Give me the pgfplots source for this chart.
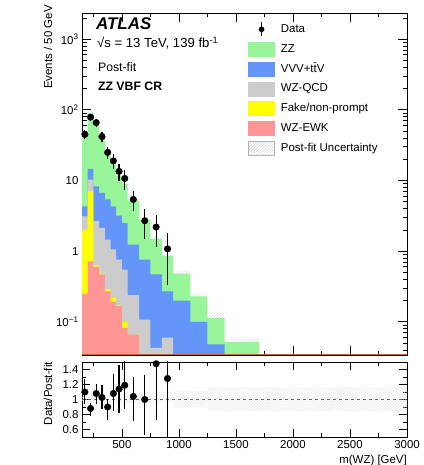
\documentclass[border=0pt]{standalone}
\usepackage{fontspec}
\setmainfont{Liberation Sans}
\usepackage{pgfplots}
\usepackage{pgfplotstable}
\pgfplotsset{compat=1.18}
\usepgfplotslibrary{fillbetween}
\usetikzlibrary{patterns}

\definecolor{zzgreen}{RGB}{153,245,153}
\definecolor{vvvblue}{RGB}{100,150,250}
\definecolor{qcdgrey}{RGB}{204,204,204}
\definecolor{fakeyel}{RGB}{255,255,0}
\definecolor{ewkred}{RGB}{255,150,150}
\definecolor{axbrown}{RGB}{200,100,60}

% stacked (cumulative) heights, left bin edges; first/last rows close the polygon
\pgfplotstableread{
x    ewk   fake  qcd   vvv   zz
150  0.01  0.01  0.01  0.01  0.01
150  0.25  2.0   3.1   4.3   41
200  0.72  7.1   10.3  14.6  90
250  0.60  0.63  2.66  8.3   61
300  0.47  0.48  2.14  6.7   41
350  0.27  0.29  1.46  5.4   27.5
400  0.19  0.22  1.06  4.3   17.6
450  0.167 0.17  0.76  3.2   11.8
500  0.082 0.099 0.55  2.52  9.0
550  0.066 0.066 0.24  1.24  5.2
650  0.01  0.01  0.108 0.76  2.75
750  0.01  0.01  0.043 0.47  1.5
850  0.01  0.01  0.06  0.27  0.86
950  0.01  0.01  0.01  0.20  0.48
1100 0.01  0.01  0.01  0.10  0.23
1250 0.01  0.01  0.01  0.048 0.114
1400 0.01  0.01  0.01  0.01  0.052
1700 0.01  0.01  0.01  0.01  0.052
1700 0.01  0.01  0.01  0.01  0.01
}\stack

\pgfplotstableread{
x    up     lo
150  43.05  38.95
200  94.5   85.5
250  64.05  57.95
300  43.05  38.95
350  28.9   26.1
400  18.5   16.7
450  12.4   11.2
500  9.45   8.55
550  5.46   4.94
650  2.89   2.61
750  1.575  1.425
850  0.903  0.817
950  0.533  0.427
1100 0.255  0.205
1250 0.132  0.096
1400 0.060  0.0437
1700 0.060  0.0437
}\band

\pgfplotstableread{
x   y     ep    em
175 45    6.7   6.7
225 79    8.9   8.9
275 66    8.1   8.1
325 42    6.5   6.5
375 25    5.0   5.0
425 19    4.4   4.4
475 13.5  3.7   3.7
525 10.7  3.3   3.3
600 5.4   1.7   1.7
700 2.7   1.2   1.2
800 2.2   1.05  1.05
900 1.08  0.75  0.75
}\data

\pgfplotstableread{
x   y      ep    em
175 1.10   0.167 0.157
225 0.88   0.067 0.10
275 1.08   0.13  0.14
325 1.027  0.16  0.16
375 0.90   0.11  0.17
425 1.08   0.26  0.24
475 1.14   0.32  0.32
525 1.19   0.35  0.32
600 1.04   0.26  0.33
700 1.00   0.32  0.47
800 1.476  0.30  0.75
900 1.28   0.90  0.90
}\ratio

\pgfplotstableread{
x    up    lo
150  1.05  0.95
950  1.11  0.89
1250 1.16  0.84
3000 1.16  0.84
}\rband

\newcommand{\lfont}{\fontsize{11.5}{13.8}\selectfont}

\begin{document}
\begin{tikzpicture}
\pgfplotsset{
  every axis/.append style={
    scale only axis, font=\lfont,
    axis line style={line width=0.8bp},
    every tick/.style={black, line width=0.8bp},
    tick align=inside, major tick length=9bp, minor tick length=4.5bp,
    xmin=150, xmax=3000,
    xtick={500,1000,1500,2000,2500,3000},
    minor xtick={250,750,1250,1750,2250,2750},
    tick label style={font=\lfont},
  }
}
% ---------------- main panel ----------------
\begin{axis}[
  at={(82bp,110bp)}, anchor=south west,
  width=325bp, height=342bp,
  ymode=log, ymin=0.034, ymax=2350,
  xticklabels={},
  ytick={0.1,1,10,100,1000},
  yticklabels={10\textsuperscript{−1},1,10,10\textsuperscript{2},10\textsuperscript{3}},
  minor ytick={0.04,0.05,0.06,0.07,0.08,0.09,0.2,0.3,0.4,0.5,0.6,0.7,0.8,0.9,2,3,4,5,6,7,8,9,20,30,40,50,60,70,80,90,200,300,400,500,600,700,800,900,2000},
  ylabel={Events / 50 GeV},
  ylabel style={at={(axis description cs:-0.1046,1.023)}, anchor=east, inner sep=0pt},
  legend style={at={(axis description cs:0.511,0.975)}, anchor=north west,
    draw=none, fill=none, font=\lfont, row sep=5.3bp, inner sep=0pt,
    nodes={inner sep=1bp, text height=9bp, text depth=3bp},
    /tikz/every odd column/.append style={column sep=5bp}},
  legend cell align=left,
]
\addplot[fill=zzgreen, draw=none, const plot mark left, forget plot] table[x=x,y=zz] {\stack};
\addplot[fill=vvvblue, draw=none, const plot mark left, forget plot] table[x=x,y=vvv] {\stack};
\addplot[fill=qcdgrey, draw=none, const plot mark left, forget plot] table[x=x,y=qcd] {\stack};
\addplot[fill=fakeyel, draw=none, const plot mark left, forget plot] table[x=x,y=fake] {\stack};
\addplot[fill=ewkred, draw=none, const plot mark left, forget plot] table[x=x,y=ewk] {\stack};

\addplot[name path=mup, draw=none, const plot mark left, forget plot] table[x=x,y=up] {\band};
\addplot[name path=mlo, draw=none, const plot mark left, forget plot] table[x=x,y=lo] {\band};
\addplot[pattern=north east lines, pattern color=gray!28, draw=none, forget plot] fill between[of=mup and mlo];

\addplot[only marks, mark=*, mark size=3.3bp, black, forget plot,
  error bars/.cd, y dir=both, y explicit, error mark=none,
  error bar style={line width=1.2bp, black}]
  table[x=x,y=y,y error plus=ep,y error minus=em] {\data};

% legend
\addlegendimage{legend image code/.code={
  \draw[black,line width=1.2bp] (13bp,-7bp) -- (13bp,7bp);
  \fill[black] (13bp,0bp) circle (2.6bp);}}
\addlegendentry{Data}
\addlegendimage{legend image code/.code={\fill[zzgreen] (0bp,-7bp) rectangle (26bp,7bp);}}
\addlegendentry{ZZ}
\addlegendimage{legend image code/.code={\fill[vvvblue] (0bp,-7bp) rectangle (26bp,7bp);}}
\addlegendentry{VVV+tt̄V}
\addlegendimage{legend image code/.code={\fill[qcdgrey] (0bp,-7bp) rectangle (26bp,7bp);}}
\addlegendentry{WZ-QCD}
\addlegendimage{legend image code/.code={\fill[fakeyel] (0bp,-7bp) rectangle (26bp,7bp);}}
\addlegendentry{Fake/non-prompt}
\addlegendimage{legend image code/.code={\fill[ewkred] (0bp,-7bp) rectangle (26bp,7bp);}}
\addlegendentry{WZ-EWK}
\addlegendimage{legend image code/.code={\draw[gray!60, line width=0.6bp, pattern=north east lines, pattern color=gray!35] (0bp,-7bp) rectangle (26bp,7bp);}}
\addlegendentry{Post-fit Uncertainty}

\node[anchor=west, inner sep=0pt, font=\fontsize{17}{20}\selectfont\bfseries\itshape] at (axis description cs:0.043,0.968) {ATLAS};
\node[anchor=west, inner sep=0pt, font=\fontsize{13.2}{15}\selectfont] at (axis description cs:0.046,0.912) {√s = 13 TeV, 139 fb\textsuperscript{-1}};
\node[anchor=west, inner sep=0pt, font=\fontsize{12.3}{14}\selectfont] at (axis description cs:0.049,0.842) {Post-fit};
\node[anchor=west, inner sep=0pt, font=\fontsize{12.3}{14}\selectfont\bfseries] at (axis description cs:0.049,0.787) {ZZ VBF CR};
\end{axis}
\draw[axbrown, line width=1bp] (82bp,110bp) -- (407bp,110bp);

% ---------------- ratio panel ----------------
\begin{axis}[
  at={(82bp,28bp)}, anchor=south west,
  width=325bp, height=75bp,
  ymin=0.5, ymax=1.5,
  major tick length=8bp, minor tick length=4bp,
  xticklabels={500,1000,1500,2000,2500,3000},
  ytick={0.6,0.8,1,1.2,1.4},
  yticklabels={0.6,0.8,1,1.2,1.4},
  minor ytick={0.5,0.7,0.9,1.1,1.3,1.5},
  ylabel={Data/Post-fit},
  ylabel style={at={(axis description cs:-0.1046,1.0)}, anchor=east, inner sep=0pt},
  xlabel={m(WZ) [GeV]},
  xlabel style={at={(axis description cs:1,-0.235)}, anchor=north east, inner sep=0pt},
]
\addplot[name path=rup, draw=none, const plot mark left] table[x=x,y=up] {\rband};
\addplot[name path=rlo, draw=none, const plot mark left] table[x=x,y=lo] {\rband};
\addplot[pattern=north east lines, pattern color=gray!22, draw=none] fill between[of=rup and rlo];
\addplot[gray!80!black, dashed, line width=0.8bp] coordinates {(150,1) (3000,1)};
\addplot[only marks, mark=*, mark size=3.3bp, black,
  error bars/.cd, y dir=both, y explicit, error mark=none,
  error bar style={line width=1.2bp, black}]
  table[x=x,y=y,y error plus=ep,y error minus=em] {\ratio};
\end{axis}

\pgfresetboundingbox
\path[use as bounding box] (0bp,0bp) rectangle (424bp,465bp);
\end{tikzpicture}
\end{document}
